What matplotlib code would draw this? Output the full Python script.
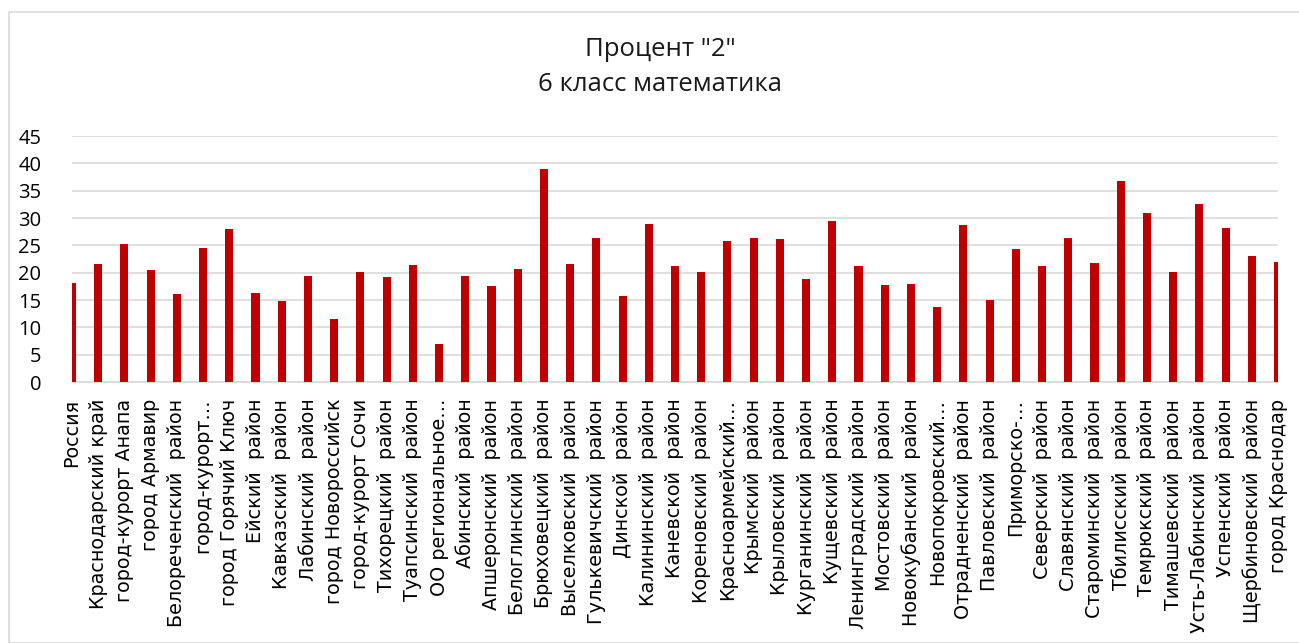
import matplotlib
matplotlib.use("Agg")
import matplotlib.pyplot as plt
from matplotlib.patches import Rectangle

categories = [
    "Россия", "Краснодарский край", "город-курорт Анапа", "город Армавир",
    "Белореченский  район", "город-курорт…", "город Горячий Ключ", "Ейский  район",
    "Кавказский  район", "Лабинский  район", "город Новороссийск", "город-курорт Сочи",
    "Тихорецкий  район", "Туапсинский  район", "ОО региональное…",
    "Абинский  район", "Апшеронский  район", "Белоглинский  район", "Брюховецкий  район",
    "Выселковский  район", "Гулькевичский  район", "Динской  район", "Калининский  район",
    "Каневской  район", "Кореновский  район", "Красноармейский…", "Крымский  район",
    "Крыловский  район", "Курганинский  район", "Кущевский  район", "Ленинградский  район",
    "Мостовский  район", "Новокубанский  район", "Новопокровский…", "Отрадненский  район",
    "Павловский  район", "Приморско-…", "Северский  район", "Славянский  район",
    "Староминский  район", "Тбилисский  район", "Темрюкский  район", "Тимашевский  район",
    "Усть-Лабинский  район", "Успенский  район", "Щербиновский  район", "город Краснодар",
]
values = [
    18.1, 21.5, 25.2, 20.5, 16.1, 24.5, 27.9, 16.3, 14.9, 19.4, 11.6, 20.2, 19.2, 21.4, 7.0,
    19.4, 17.5, 20.7, 39.0, 21.6, 26.4, 15.7, 28.9, 21.2, 20.1, 25.8, 26.4, 26.2, 18.9, 29.5,
    21.2, 17.7, 17.9, 13.7, 28.7, 15.0, 24.3, 21.2, 26.4, 21.8, 36.7, 30.9, 20.2, 32.5, 28.1,
    23.1, 22.0,
]
yticks = [0, 5, 10, 15, 20, 25, 30, 35, 40, 45]
title_text = 'Процент "2"\n6 класс математика'

W, H = 1299, 643
fig = plt.figure(figsize=(W / 100, H / 100), dpi=100)
fig.patch.set_facecolor("white")

# chart border
fig.patches.append(Rectangle((9 / W, 0), 1.0, 1 - 12 / H, transform=fig.transFigure,
                             fill=False, edgecolor="#d9d9d9", linewidth=1.2))

ax = fig.add_axes([72 / W, 1 - 382 / H, (1278 - 72) / W, (382 - 136) / H])
x = list(range(len(categories)))
ax.bar(x, values, width=0.31, color="#C00000", zorder=3)
ax.set_xlim(0, len(categories) - 1)
ax.set_ylim(0, 45)
ax.set_yticks(yticks)
ax.set_yticklabels([str(t) for t in yticks], fontsize=14.5, family="Open Sans")
ax.tick_params(axis="y", length=0, pad=22)
ax.set_xticks(x)
ax.set_xticklabels(categories, rotation=90, fontsize=13.8, family="DejaVu Sans",
                   ha="center", va="top")
ax.tick_params(axis="x", length=0, pad=12)
ax.grid(axis="y", color="#d9d9d9", linewidth=1.2, zorder=0)
for s in ["top", "right", "left"]:
    ax.spines[s].set_visible(False)
ax.spines["bottom"].set_color("#d9d9d9")
ax.spines["bottom"].set_linewidth(1.2)

fig.text(660 / W, 1 - 67 / H, title_text, ha="center", va="center", fontsize=18.5,
         family="Open Sans", linespacing=1.55, color="#1a1a1a")

fig.savefig("out.png", dpi=100)
